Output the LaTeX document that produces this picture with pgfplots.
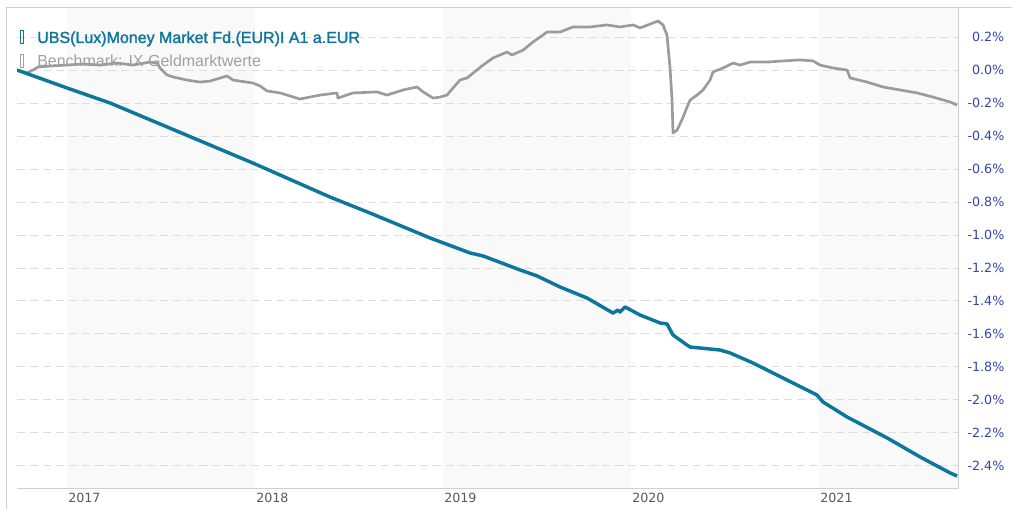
\documentclass[border=0pt]{standalone}
\usepackage{fontspec}
\setmainfont{Liberation Sans}
\newfontfamily\tickfontfam{DejaVu Sans}
\newfontfamily\legfontb[FakeBold=1.6]{Liberation Sans}
\usepackage{pgfplots}
\pgfplotsset{compat=1.18}
\definecolor{fundblue}{RGB}{12,118,156}
\definecolor{benchgray}{RGB}{155,155,155}
\definecolor{legendgray}{RGB}{160,160,160}
\definecolor{bandgray}{RGB}{249,249,249}
\definecolor{gridgray}{RGB}{221,221,221}
\definecolor{framegray}{RGB}{208,208,208}
\definecolor{tickblue}{RGB}{51,68,170}
\definecolor{yeargray}{RGB}{90,90,90}
\newcommand{\tickfont}{\tickfontfam\fontsize{9.5}{11}\selectfont}
\begin{document}
\begin{tikzpicture}
\path (0pt,0pt) rectangle (759.75pt,382.5pt);
\draw[framegray, line width=0.75pt] (4.5pt,0.4pt) -- (4.5pt,376.5pt) -- (759.35pt,376.5pt);
\begin{axis}[
  set layers,
  at={(12.75pt,15.75pt)}, anchor=south west,
  scale only axis, width=705.75pt, height=360.75pt,
  xmin=2016.734, xmax=2021.739,
  ymin=-2.5394, ymax=0.3758,
  axis x line*=bottom, axis y line*=right,
  axis line style={draw=framegray, line width=0.75pt},
  major tick length=0pt,
  xtick={2017,2018,2019,2020,2021},
  xticklabels={2017,2018,2019,2020,2021},
  xticklabel style={anchor=north west, inner sep=0pt, yshift=-3pt, xshift=0.75pt, font=\tickfont, text=yeargray},
  ytick={-2.4,-2.2,-2.0,-1.8,-1.6,-1.4,-1.2,-1.0,-0.8,-0.6,-0.4,-0.2,0,0.2},
  yticklabels={-2.4\%,-2.2\%,-2.0\%,-1.8\%,-1.6\%,-1.4\%,-1.2\%,-1.0\%,-0.8\%,-0.6\%,-0.4\%,-0.2\%,0.0\%,0.2\%},
  yticklabel style={anchor=west, inner sep=0pt, text width=34.5pt, align=right, font=\tickfont, text=tickblue},
  /pgf/number format/assume math mode=true,
  ymajorgrids,
  grid style={draw=gridgray, line width=0.75pt, dash pattern=on 6pt off 3.75pt},
]
\addplot[fill=bandgray, draw=none, forget plot, on layer=axis background] coordinates {(2017,-2.5394) (2018,-2.5394) (2018,0.3758) (2017,0.3758)};
\addplot[fill=bandgray, draw=none, forget plot, on layer=axis background] coordinates {(2019,-2.5394) (2020,-2.5394) (2020,0.3758) (2019,0.3758)};
\addplot[fill=bandgray, draw=none, forget plot, on layer=axis background] coordinates {(2021,-2.5394) (2021.739,-2.5394) (2021.739,0.3758) (2021,0.3758)};
% Benchmark: IX Geldmarktwerte
\addplot[benchgray, line width=2pt, line join=round] coordinates {
(2016.734,0.000) (2016.766,-0.012) (2016.787,-0.018) (2016.819,0.000) (2016.846,0.018)
(2016.910,0.024) (2017.000,0.030) (2017.085,0.036) (2017.176,0.030) (2017.266,0.042)
(2017.351,0.030) (2017.441,0.048) (2017.479,0.042) (2017.495,0.012) (2017.532,-0.030)
(2017.564,-0.042) (2017.638,-0.061) (2017.707,-0.073) (2017.761,-0.067) (2017.851,-0.036)
(2017.883,-0.061) (2017.989,-0.079) (2018.027,-0.097) (2018.064,-0.127) (2018.133,-0.139)
(2018.239,-0.176) (2018.346,-0.152) (2018.436,-0.139) (2018.441,-0.170) (2018.521,-0.139)
(2018.649,-0.133) (2018.702,-0.152) (2018.787,-0.121) (2018.862,-0.103) (2018.894,-0.133)
(2018.947,-0.170) (2018.984,-0.164) (2019.021,-0.152) (2019.053,-0.109) (2019.090,-0.061)
(2019.128,-0.048) (2019.213,0.030) (2019.266,0.073) (2019.340,0.109) (2019.367,0.091)
(2019.426,0.121) (2019.479,0.170) (2019.553,0.230) (2019.622,0.230) (2019.691,0.261)
(2019.782,0.261) (2019.872,0.273) (2019.941,0.261) (2020.011,0.273) (2020.048,0.255)
(2020.117,0.285) (2020.144,0.297) (2020.170,0.273) (2020.191,0.212) (2020.207,0.018)
(2020.218,-0.182) (2020.223,-0.382) (2020.245,-0.364) (2020.277,-0.285) (2020.298,-0.224)
(2020.314,-0.182) (2020.351,-0.152) (2020.383,-0.121) (2020.420,-0.061) (2020.436,-0.012)
(2020.489,0.012) (2020.543,0.042) (2020.580,0.030) (2020.633,0.048) (2020.723,0.048)
(2020.809,0.055) (2020.899,0.061) (2020.968,0.055) (2021.005,0.030) (2021.074,0.012)
(2021.149,0.000) (2021.165,-0.048) (2021.255,-0.073) (2021.340,-0.103) (2021.431,-0.121)
(2021.521,-0.139) (2021.606,-0.164) (2021.697,-0.194) (2021.734,-0.212)
};
% UBS (Lux) Money Market Fd. (EUR) I A1 a.EUR
\addplot[fundblue, line width=2.6pt, line join=round] coordinates {
(2016.734,0.000) (2017.000,-0.109) (2017.229,-0.200) (2017.532,-0.345) (2017.989,-0.564)
(2018.399,-0.770) (2018.612,-0.867) (2018.931,-1.018) (2019.144,-1.109) (2019.213,-1.127)
(2019.410,-1.212) (2019.500,-1.248) (2019.622,-1.315) (2019.766,-1.382) (2019.904,-1.473)
(2019.931,-1.455) (2019.941,-1.467) (2019.968,-1.436) (2020.048,-1.485) (2020.154,-1.533)
(2020.191,-1.539) (2020.223,-1.606) (2020.298,-1.667) (2020.314,-1.679) (2020.367,-1.685)
(2020.473,-1.697) (2020.527,-1.715) (2020.649,-1.776) (2020.830,-1.879) (2020.989,-1.970)
(2021.021,-2.012) (2021.149,-2.103) (2021.362,-2.230) (2021.537,-2.345) (2021.697,-2.442)
(2021.734,-2.461)
};
\end{axis}
% legend
\draw[fundblue, line width=0.6pt] (15.2pt,349.75pt) rectangle (17.8pt,359.75pt);
\node[anchor=base west, inner sep=0pt, text=fundblue, font=\legfontb\fontsize{12}{14}\selectfont] at (27.75pt,350.25pt) {UBS(Lux)Money Market Fd.(EUR)I A1 a.EUR};
\draw[legendgray, line width=0.6pt] (15.2pt,331.75pt) rectangle (17.8pt,341.75pt);
\node[anchor=base west, inner sep=0pt, text=legendgray, font=\fontsize{12}{14}\selectfont] at (27.75pt,332.25pt) {Benchmark: IX Geldmarktwerte};
\end{tikzpicture}
\end{document}
